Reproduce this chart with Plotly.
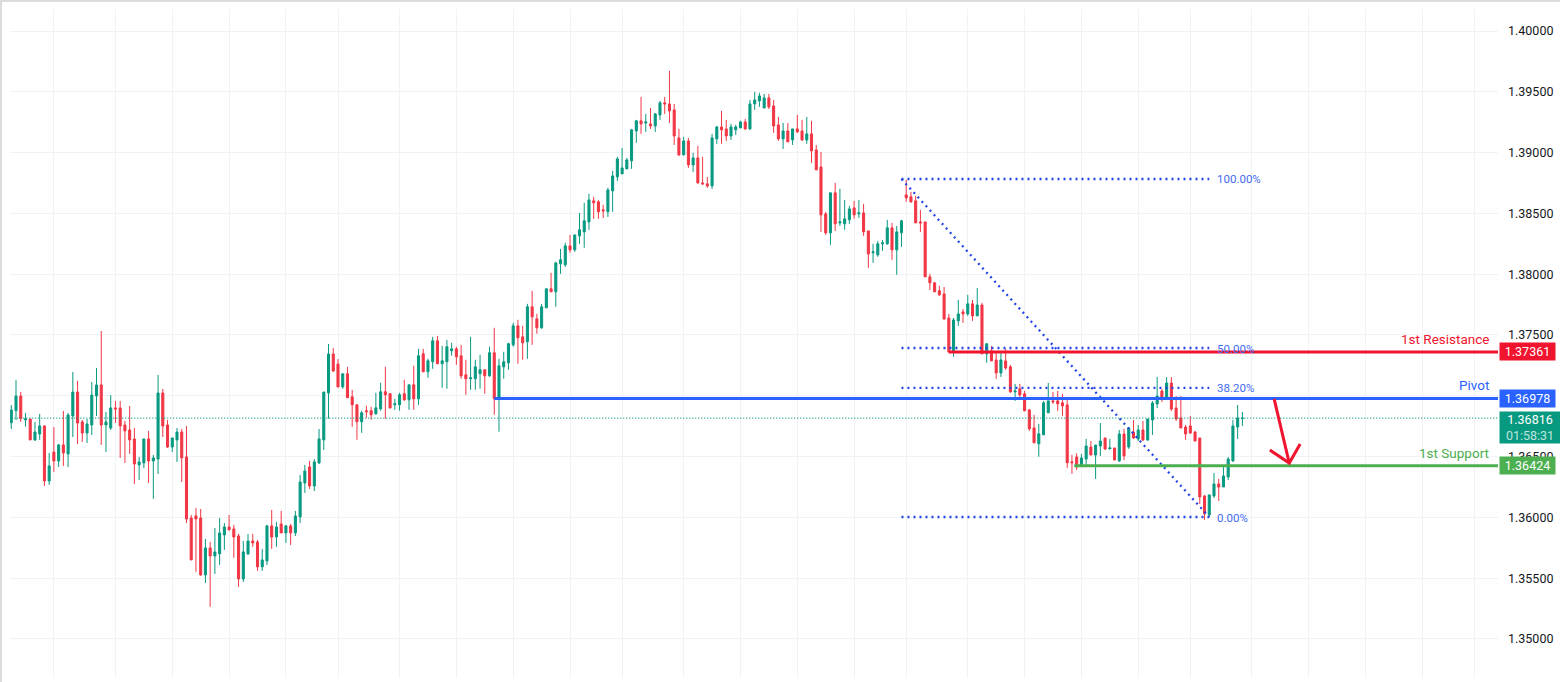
import plotly.graph_objects as go

opens = [1.36779,1.36878,1.36998,1.36801,1.36809,1.36637,1.36686,1.36752,1.36300,1.36538,
1.36464,1.36596,1.36522,1.36834,1.37031,1.36785,1.36694,1.36760,1.36998,1.37089,
1.36760,1.36735,1.36900,1.36900,1.36760,1.36719,1.36645,1.36431,1.36448,1.36645,
1.36464,1.36480,1.37023,1.36760,1.36579,1.36637,1.36702,1.36497,1.35995,1.36012,
1.35995,1.35527,1.35749,1.35683,1.35700,1.35856,1.35921,1.35905,1.35847,1.35494,
1.35700,1.35806,1.35798,1.35593,1.35642,1.35930,1.35839,1.35946,1.35872,1.35930,
1.35872,1.36004,1.36283,1.36415,1.36258,1.36448,1.36637,1.37023,1.37344,1.37261,
1.37074,1.37181,1.36992,1.36926,1.36786,1.36877,1.36877,1.36852,1.36893,1.37033,
1.37017,1.36926,1.36926,1.37017,1.36967,1.37090,1.36975,1.37345,1.37197,1.37280,
1.37452,1.37263,1.37280,1.37370,1.37386,1.37329,1.37173,1.37140,1.37140,1.37181,
1.37214,1.37164,1.37354,1.36975,1.37238,1.37271,1.37419,1.37575,1.37485,1.37444,
1.37732,1.37633,1.37559,1.37723,1.37880,1.37855,1.38085,1.38077,1.38233,1.38200,
1.38315,1.38348,1.38430,1.38603,1.38595,1.38529,1.38513,1.38685,1.38800,1.38825,
1.38866,1.38932,1.39178,1.39261,1.39244,1.39236,1.39219,1.39310,1.39409,1.39400,
1.39351,1.39121,1.38981,1.39096,1.38899,1.38956,1.38751,1.38743,1.38726,1.39113,
1.39211,1.39195,1.39137,1.39187,1.39203,1.39252,1.39195,1.39400,1.39425,1.39367,
1.39450,1.39384,1.39228,1.39113,1.39178,1.39104,1.39195,1.39178,1.39104,1.39154,
1.39022,1.38882,1.38496,1.38340,1.38669,1.38422,1.38414,1.38447,1.38545,1.38496,
1.38504,1.38356,1.38176,1.38159,1.38250,1.38250,1.38381,1.38200,1.38340,1.38652,
1.38636,1.38603,1.38430,1.38430,1.37978,1.37929,1.37863,1.37838,1.37640,1.37369,
1.37616,1.37690,1.37673,1.37756,1.37657,1.37747,1.37345,1.37369,1.37295,1.37188,
1.37287,1.37238,1.37032,1.37057,1.37016,1.36884,1.36736,1.36605,1.36679,1.36860,
1.36958,1.36958,1.36942,1.36925,1.36457,1.36497,1.36431,1.36480,1.36579,1.36513,
1.36587,1.36653,1.36563,1.36571,1.36464,1.36686,1.36579,1.36702,1.36645,1.36719,
1.36637,1.36801,1.36933,1.37039,1.36974,1.37105,1.36900,1.36817,1.36743,1.36752,
1.36702,1.36653,1.36176,1.36020,1.36176,1.36275,1.36250,1.36332,1.36464,1.36743,
1.36812]
highs = [1.36924,1.37130,1.37031,1.36859,1.36809,1.36785,1.36850,1.36757,1.36530,1.36743,
1.36604,1.36875,1.36859,1.37196,1.37122,1.36801,1.36809,1.37113,1.37228,1.37533,
1.36867,1.37006,1.36957,1.36957,1.36793,1.36916,1.36735,1.36497,1.36645,1.36711,
1.36513,1.37171,1.37056,1.36801,1.36653,1.36735,1.36727,1.36752,1.36020,1.36078,
1.36069,1.35823,1.35798,1.35913,1.35995,1.35954,1.36020,1.35938,1.35864,1.35806,
1.35864,1.35864,1.35815,1.35741,1.35938,1.36061,1.35963,1.36053,1.35938,1.35946,
1.36053,1.36349,1.36431,1.36464,1.36480,1.36727,1.37031,1.37426,1.37393,1.37302,
1.37181,1.37238,1.37049,1.36926,1.36877,1.36918,1.36910,1.37025,1.37107,1.37238,
1.37022,1.36975,1.37025,1.37132,1.37090,1.37247,1.37386,1.37386,1.37304,1.37485,
1.37493,1.37411,1.37460,1.37436,1.37403,1.37419,1.37296,1.37485,1.37296,1.37337,
1.37214,1.37403,1.37559,1.37304,1.37362,1.37436,1.37600,1.37625,1.37575,1.37756,
1.37863,1.37674,1.37756,1.37880,1.38011,1.38102,1.38208,1.38258,1.38323,1.38323,
1.38504,1.38587,1.38661,1.38636,1.38611,1.38570,1.38710,1.38850,1.38965,1.39039,
1.38956,1.39195,1.39269,1.39458,1.39318,1.39367,1.39326,1.39425,1.39458,1.39672,
1.39400,1.39195,1.39129,1.39121,1.38998,1.39055,1.38965,1.38800,1.39154,1.39219,
1.39343,1.39269,1.39236,1.39228,1.39261,1.39277,1.39433,1.39499,1.39491,1.39483,
1.39483,1.39433,1.39293,1.39244,1.39244,1.39195,1.39310,1.39269,1.39293,1.39261,
1.39063,1.39006,1.38513,1.38669,1.38751,1.38702,1.38611,1.38562,1.38603,1.38611,
1.38578,1.38356,1.38250,1.38274,1.38282,1.38447,1.38422,1.38397,1.38447,1.38776,
1.38677,1.38644,1.38529,1.38430,1.38003,1.37937,1.37904,1.37895,1.37673,1.37640,
1.37788,1.37714,1.37830,1.37788,1.37887,1.37764,1.37435,1.37410,1.37353,1.37353,
1.37386,1.37254,1.37098,1.37098,1.37040,1.36892,1.36843,1.36769,1.36958,1.37106,
1.37032,1.37040,1.37016,1.36983,1.36514,1.36527,1.36522,1.36645,1.36628,1.36595,
1.36776,1.36653,1.36645,1.36571,1.36719,1.36727,1.36743,1.36801,1.36760,1.36793,
1.36809,1.36957,1.37154,1.37056,1.37154,1.37154,1.36998,1.36998,1.36760,1.36834,
1.36711,1.36653,1.36185,1.36185,1.36365,1.36316,1.36415,1.36497,1.36801,1.36924,
1.36867]
lows = [1.36727,1.36801,1.36785,1.36746,1.36637,1.36628,1.36637,1.36258,1.36267,1.36374,
1.36415,1.36423,1.36415,1.36661,1.36604,1.36620,1.36612,1.36678,1.36834,1.36596,
1.36538,1.36719,1.36776,1.36489,1.36448,1.36522,1.36275,1.36308,1.36406,1.36283,
1.36152,1.36357,1.36661,1.36571,1.36538,1.36456,1.36291,1.35954,1.35650,1.35552,
1.35519,1.35461,1.35264,1.35535,1.35609,1.35732,1.35897,1.35667,1.35428,1.35469,
1.35691,1.35757,1.35560,1.35560,1.35609,1.35741,1.35757,1.35872,1.35790,1.35773,
1.35847,1.35954,1.36201,1.36234,1.36217,1.36439,1.36554,1.36812,1.37196,1.37072,
1.37058,1.36984,1.36745,1.36638,1.36696,1.36819,1.36803,1.36844,1.36877,1.36811,
1.36893,1.36885,1.36877,1.36959,1.36885,1.36885,1.36926,1.37197,1.37148,1.37222,
1.37263,1.37066,1.37058,1.37329,1.37255,1.37140,1.37008,1.37049,1.37049,1.37058,
1.37017,1.37156,1.36844,1.36704,1.37140,1.37214,1.37403,1.37263,1.37296,1.37304,
1.37419,1.37510,1.37551,1.37723,1.37855,1.37732,1.38003,1.38060,1.38176,1.38184,
1.38250,1.38217,1.38365,1.38455,1.38455,1.38463,1.38471,1.38513,1.38767,1.38825,
1.38866,1.38866,1.39080,1.39154,1.39170,1.39195,1.39170,1.39269,1.39318,1.39244,
1.39063,1.38973,1.38981,1.38874,1.38841,1.38743,1.38735,1.38710,1.38702,1.39072,
1.39072,1.39096,1.39104,1.39145,1.39203,1.39187,1.39187,1.39351,1.39376,1.39367,
1.39359,1.39162,1.39096,1.39030,1.39088,1.39063,1.39162,1.39096,1.39072,1.38915,
1.38858,1.38348,1.38323,1.38241,1.38356,1.38397,1.38365,1.38414,1.38455,1.38463,
1.38315,1.38052,1.38093,1.38143,1.38192,1.38241,1.38118,1.37995,1.38225,1.38595,
1.38587,1.38422,1.38348,1.37978,1.37871,1.37855,1.37822,1.37624,1.37353,1.37320,
1.37575,1.37599,1.37657,1.37616,1.37657,1.37345,1.37271,1.37287,1.37139,1.37155,
1.37213,1.37024,1.36958,1.36991,1.36876,1.36712,1.36613,1.36498,1.36679,1.36860,
1.36934,1.36876,1.36835,1.36407,1.36358,1.36390,1.36423,1.36431,1.36513,1.36316,
1.36505,1.36554,1.36563,1.36472,1.36456,1.36472,1.36563,1.36645,1.36628,1.36628,
1.36628,1.36678,1.36900,1.36949,1.36965,1.36875,1.36793,1.36735,1.36637,1.36686,
1.36628,1.36111,1.35979,1.36004,1.36160,1.36135,1.36250,1.36308,1.36456,1.36645,
1.36752]
closes = [1.36883,1.36998,1.36812,1.36809,1.36637,1.36702,1.36752,1.36300,1.36423,1.36464,
1.36596,1.36530,1.36842,1.37031,1.36776,1.36694,1.36768,1.37006,1.37089,1.36760,
1.36785,1.36900,1.36891,1.36752,1.36711,1.36637,1.36439,1.36456,1.36645,1.36464,
1.36489,1.37023,1.36752,1.36579,1.36653,1.36702,1.36489,1.35987,1.35650,1.35987,
1.35527,1.35749,1.35683,1.35716,1.35872,1.35921,1.35897,1.35839,1.35494,1.35716,
1.35806,1.35790,1.35593,1.35650,1.35930,1.35839,1.35921,1.35872,1.35930,1.35872,
1.36012,1.36291,1.36382,1.36258,1.36456,1.36645,1.37031,1.37344,1.37204,1.37072,
1.37181,1.36984,1.36926,1.36786,1.36860,1.36869,1.36844,1.36901,1.37033,1.37008,
1.36901,1.36934,1.37008,1.36967,1.37090,1.36975,1.37329,1.37197,1.37288,1.37452,
1.37263,1.37288,1.37403,1.37386,1.37321,1.37164,1.37140,1.37148,1.37238,1.37214,
1.37164,1.37354,1.36975,1.37247,1.37280,1.37428,1.37575,1.37477,1.37436,1.37732,
1.37649,1.37559,1.37732,1.37880,1.37855,1.38093,1.38118,1.38233,1.38200,1.38323,
1.38365,1.38439,1.38611,1.38587,1.38513,1.38521,1.38693,1.38808,1.38948,1.38874,
1.38940,1.39187,1.39261,1.39236,1.39252,1.39219,1.39318,1.39409,1.39400,1.39343,
1.39137,1.38981,1.39096,1.38899,1.38956,1.38751,1.38743,1.38726,1.39121,1.39211,
1.39187,1.39137,1.39211,1.39211,1.39252,1.39195,1.39400,1.39433,1.39466,1.39450,
1.39376,1.39219,1.39113,1.39178,1.39088,1.39195,1.39170,1.39104,1.39154,1.39014,
1.38858,1.38488,1.38340,1.38669,1.38414,1.38430,1.38455,1.38537,1.38488,1.38504,
1.38348,1.38167,1.38184,1.38250,1.38258,1.38381,1.38200,1.38348,1.38439,1.38628,
1.38595,1.38422,1.38422,1.37978,1.37929,1.37855,1.37830,1.37632,1.37361,1.37624,
1.37673,1.37673,1.37756,1.37657,1.37747,1.37345,1.37427,1.37287,1.37188,1.37295,
1.37229,1.37032,1.37040,1.37007,1.36876,1.36728,1.36613,1.36687,1.36942,1.36958,
1.36950,1.36934,1.36917,1.36449,1.36449,1.36415,1.36489,1.36587,1.36513,1.36595,
1.36628,1.36563,1.36571,1.36472,1.36686,1.36505,1.36735,1.36653,1.36719,1.36637,
1.36809,1.36941,1.36998,1.36982,1.37105,1.36891,1.36809,1.36735,1.36686,1.36694,
1.36628,1.36168,1.36028,1.36185,1.36275,1.36250,1.36341,1.36480,1.36752,1.36817,
1.36816]
bars = list(range(len(opens)))

price_ticks = [1.35, 1.355, 1.36, 1.365, 1.37, 1.375, 1.38, 1.385, 1.39, 1.395, 1.40]
hidden_tick_labels = [1.37]  # covered by the Pivot price tag in the reference
time_grid_bars = [9,22,34,46,58,69,82,94,106,118,129,142,154,166,178,189,202,214,226,238,249,262,274,286,298,309]

resistance, pivot, support, last_price = 1.37361, 1.36978, 1.36424, 1.36816
countdown = "01:58:31"
fib_levels = [1.38783, 1.37393, 1.37065, 1.36003]
fib_names = ["100.00%", "50.00%", "38.20%", "0.00%"]
fib_start_bar, fib_end_bar = 188, 253
arrow_bars = [266.7, 269.9]
arrow_prices = [1.36974, 1.36447]
arrow_left = (265.8, 1.36554)
arrow_right = (272.2, 1.36603)

UP, DOWN = "#089981", "#F23645"
RED, BLUE, GREEN = "#F0142E", "#2962FF", "#4CAF50"
FIB = "#2444E6"
GRID = "#F1F2F5"
XMIN, XMAX = -0.27, 313.98
YMIN, YMAX = 1.34679, 1.40181
FONT = "Roboto"

fig = go.Figure()
fig.add_trace(go.Candlestick(
    x=bars, open=opens, high=highs, low=lows, close=closes,
    increasing=dict(line=dict(color=UP, width=1), fillcolor=UP),
    decreasing=dict(line=dict(color=DOWN, width=1), fillcolor=DOWN),
    whiskerwidth=0, showlegend=False, hoverinfo="skip"))

def line(xs, ys, color, width, dash="solid"):
    fig.add_trace(go.Scatter(x=xs, y=ys, mode="lines", showlegend=False, hoverinfo="skip",
                             line=dict(color=color, width=width, dash=dash)))

line([0, XMAX], [last_price, last_price], UP, 1.2, "1px,2px")
for lv in fib_levels:
    line([fib_start_bar, fib_end_bar], [lv, lv], FIB, 2.3, "2px,4px")
line([fib_start_bar, fib_end_bar], [fib_levels[0], fib_levels[-1]], FIB, 2.3, "2px,4px")
line([198, XMAX], [resistance, resistance], RED, 3)
line([102, XMAX], [pivot, pivot], BLUE, 3)
line([224.5, XMAX], [support, support], GREEN, 3)
line(arrow_bars, arrow_prices, RED, 3)
line([arrow_left[0], arrow_bars[1], arrow_right[0]],
     [arrow_left[1], arrow_prices[1], arrow_right[1]], RED, 3)

ann = []
for lv, name in zip(fib_levels, fib_names):
    ann.append(dict(x=254.3, y=lv, xref="x", yref="y", text=name, showarrow=False, xanchor="left",
                    yshift=-0.5, font=dict(family=FONT, size=11.5, color="#3F6BF0")))
for txt, lv, color in [("1st Resistance", resistance, RED), ("Pivot", pivot, BLUE), ("1st Support", support, GREEN)]:
    ann.append(dict(x=312.6, y=lv, xref="x", yref="y", text=txt, showarrow=False, xanchor="right",
                    yanchor="bottom", yshift=3, font=dict(family=FONT, size=13.5, color=color)))
for lv, color in [(resistance, RED), (pivot, BLUE), (support, GREEN)]:
    ann.append(dict(x=1.0007, y=lv, xref="paper", yref="y", text=f"{lv:.5f}", showarrow=False,
                    xanchor="left", yanchor="middle", width=55, height=17, bgcolor=color, borderpad=0,
                    align="center", font=dict(family=FONT, size=12.5, color="white")))
ann.append(dict(x=1.0007, y=last_price, xref="paper", yref="y", yanchor="top", yshift=7,
                text=f"{last_price:.5f}<br><span style='color:#BFE5DE'>{countdown}</span>",
                showarrow=False, xanchor="left", width=60, height=31, bgcolor=UP, borderpad=0, align="center",
                font=dict(family=FONT, size=12.5, color="white")))

STRIP = "#DCDCDC"
shapes = [
    dict(type="rect", xref="paper", yref="paper", x0=-10/1488, x1=-8/1488, y0=-0.01, y1=1.02,
         fillcolor=STRIP, line_width=0),
    dict(type="rect", xref="paper", yref="paper", x0=-10/1488, x1=1.05, y0=1+7/669, y1=1+9/669,
         fillcolor=STRIP, line_width=0),
]

fig.update_layout(
    width=1560, height=682, margin=dict(l=10, r=62, t=9, b=4),
    paper_bgcolor="white", plot_bgcolor="white", showlegend=False, boxgap=0.38,
    annotations=ann, shapes=shapes,
    xaxis=dict(range=[XMIN, XMAX], rangeslider=dict(visible=False), tickmode="array",
               tickvals=time_grid_bars, showticklabels=False, ticks="", showgrid=True,
               gridcolor=GRID, gridwidth=1, zeroline=False, showline=False),
    yaxis=dict(range=[YMIN, YMAX], side="right", tickmode="array", tickvals=price_ticks,
               ticktext=["" if p in hidden_tick_labels else f"{p:.5f}" for p in price_ticks],
               showgrid=True, gridcolor=GRID, gridwidth=1,
               zeroline=False, showline=False, ticks="", ticklabelstandoff=9,
               tickfont=dict(family=FONT, size=12.5, color="#131722")),
)
fig.write_html("out.html", config={"displayModeBar": False},
               post_script="document.body.style.margin='0';document.body.style.overflow='hidden';")
